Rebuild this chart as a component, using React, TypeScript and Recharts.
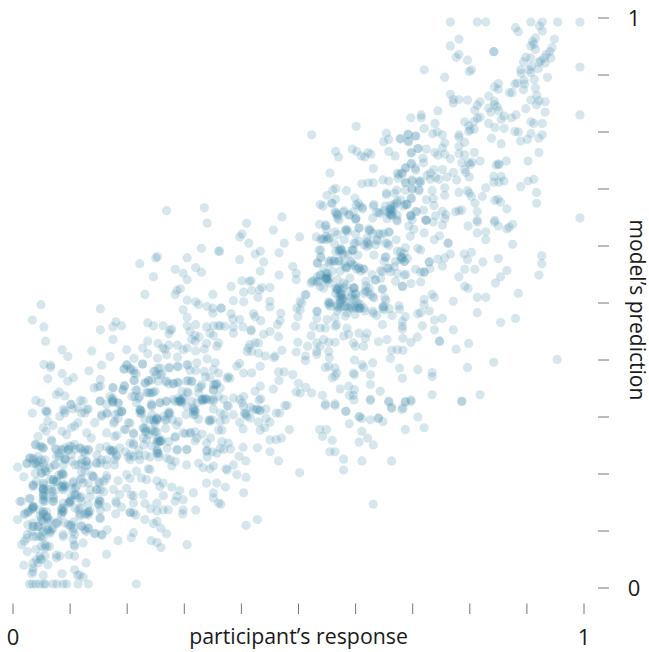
import React from 'react';
import { ScatterChart, Scatter, XAxis, YAxis } from 'recharts';

// readings, in thousandths: [participant's response, model's prediction]
const floorRow = [[29,7],[34,7],[40,7],[47,7],[54,7],[57,7],[70,7],[77,7],[88,7],[94,7],[114,7],[132,7],[216,7]];

const lowEdge = [[53,22],[35,29],[33,25],[86,25],[108,32],[117,23],[123,19],[113,22],[128,44],[19,40],[35,44],[41,50],[50,50],[56,56],[47,56],[61,41],[76,53],[82,56],[98,58],[108,73],[108,56],[164,59],[25,64],[15,76],[20,82],[25,94],[35,90],[41,90],[47,91],[56,70],[59,73],[40,68],[64,73],[123,79],[184,83],[207,88],[211,97],[242,83],[252,80],[259,71],[305,76],[269,95],[259,105],[246,113],[252,117],[231,120],[215,128],[205,132],[180,130],[164,142],[165,102],[155,94],[143,95],[132,105],[128,99],[120,109],[101,108],[105,99],[108,94],[88,94],[64,99],[59,102],[53,99],[35,108],[26,111],[8,120],[20,129],[26,132],[35,143],[32,137],[15,152],[29,157],[47,137],[53,129],[50,123],[61,123],[76,114],[85,132],[88,140],[99,152],[117,158],[120,152],[132,132],[126,129],[117,130],[135,135],[152,123],[149,148],[151,155],[146,173],[152,184],[140,196],[164,197],[184,188],[199,199],[205,192],[216,205],[225,193],[237,209],[240,208],[234,190],[252,188],[263,184],[257,178],[278,177],[292,171],[287,161],[284,152],[298,155],[316,167],[320,137],[298,137],[297,130],[272,137],[263,137],[252,149],[241,139],[231,148],[252,135],[263,162],[228,164],[211,162],[207,163],[211,149],[205,133],[187,164],[180,152],[181,149],[190,142],[176,173],[199,175],[211,132],[351,158],[351,167],[339,184],[360,149],[357,184]];

const lowLeft = [[8,212],[19,195],[25,219],[29,228],[35,228],[40,219],[44,231],[50,225],[56,225],[39,252],[47,249],[53,246],[44,266],[58,275],[57,310],[61,293],[70,285],[53,281],[67,260],[76,243],[85,243],[91,246],[97,243],[99,249],[108,252],[117,246],[126,243],[132,243],[76,231],[91,226],[88,216],[102,234],[120,219],[128,222],[128,214],[126,205],[64,211],[56,205],[42,216],[47,214],[50,202],[35,180],[54,181],[53,173],[53,161],[53,155],[41,187],[70,190],[76,187],[85,199],[88,181],[88,175],[91,178],[105,184],[102,161],[70,161],[70,152],[61,173],[67,173],[88,149],[97,149],[108,164],[111,178],[35,143],[53,172],[53,163],[56,152],[87,178],[88,172],[36,143],[53,134],[62,116],[91,225],[118,245],[100,152],[132,105],[151,152],[36,225],[44,222],[53,219],[56,210],[74,216],[88,198],[77,187],[71,190],[109,216],[97,242],[103,248],[126,236],[106,187],[120,192],[138,198],[150,187],[159,169],[118,140],[132,134],[135,160],[112,163],[85,137]];

const lowLeftDense = [[24,218],[30,228],[36,218],[40,251],[50,248],[53,245],[68,257],[74,245],[88,242],[109,243],[123,239],[132,242],[147,233],[164,248],[170,242],[80,236],[81,230],[91,228],[103,222],[115,216],[121,225],[132,216],[147,219],[153,219],[164,216],[129,222],[120,204],[72,216],[88,201],[59,204],[50,201],[39,201],[65,190],[71,187],[80,198],[85,201],[85,178],[91,181],[103,175],[74,172],[68,169],[53,184],[52,175],[56,160],[53,152],[71,157],[71,152],[36,181],[35,178],[118,190],[123,184],[132,184],[141,195],[159,187],[164,192],[147,172],[153,172],[135,172],[109,175],[103,154],[99,149],[85,140],[88,134],[85,128],[115,137],[109,140],[129,131],[132,128],[153,152],[150,146],[153,137],[153,122],[120,160],[109,163],[132,146],[34,140],[27,134],[21,131],[50,119],[59,134],[59,125],[65,119],[77,113],[50,105],[36,108],[33,99],[44,108],[62,102],[68,102],[65,96],[24,87],[50,90],[97,111],[106,116],[106,105],[120,108],[126,102],[144,96],[156,93],[88,90],[12,152],[30,157],[35,35],[48,51],[44,44],[50,73],[56,76],[53,88],[53,117],[47,126],[53,132],[59,126],[35,140],[35,114],[44,108],[70,105],[79,117],[91,114],[105,85],[107,76],[76,58],[88,135],[102,111],[117,126],[53,167],[53,175]];

const lowMiddle = [[86,275],[94,269],[102,281],[108,284],[114,290],[129,272],[137,263],[143,290],[155,304],[165,306],[178,292],[184,298],[190,310],[164,272],[178,266],[152,246],[175,240],[178,225],[178,216],[181,231],[146,219],[155,225],[164,225],[129,313],[120,307],[102,322],[88,313],[82,301],[91,307],[123,328],[152,328],[175,328],[202,290],[195,278],[211,272],[222,313],[225,310],[243,319],[228,281],[233,275],[247,292],[252,295],[272,307],[266,295],[284,266],[254,257],[257,257],[252,237],[253,240],[252,254],[243,249],[222,225],[205,234],[205,225],[187,246],[275,225],[284,222],[269,228],[278,214],[304,216],[325,219],[345,209],[333,211],[351,214],[339,254],[339,240],[310,272],[298,272],[322,263],[345,292],[322,325],[316,313],[319,304],[292,328],[295,325],[333,328],[351,328],[288,243],[304,243],[269,295],[234,260],[228,263],[211,254],[216,325],[240,295],[249,275]];

const midKnots = [[200,391],[194,384],[206,383],[212,377],[227,393],[212,364],[175,352],[195,355],[193,347],[232,359],[238,364],[243,365],[215,347],[220,333],[208,336],[234,343],[243,343],[249,345],[258,374],[246,380],[258,386],[274,386],[289,388],[306,391],[320,381],[267,362],[273,358],[281,358],[290,360],[307,364],[313,362],[337,371],[329,353],[351,356],[351,347],[363,351],[325,342],[296,345],[305,344],[258,325],[268,327],[284,327],[293,330],[296,327],[290,333],[313,327],[331,330],[337,333],[346,330],[175,333],[185,324],[223,312],[191,309],[243,321],[243,304],[176,289],[179,304],[252,298],[249,289],[273,309],[305,318],[319,312],[316,304],[325,296],[343,294],[349,295],[363,292],[205,289],[229,280],[232,274],[197,278],[211,270],[182,268],[170,242],[246,274],[267,280],[287,286],[302,271],[311,272],[284,264],[258,258],[255,263],[238,269],[331,270],[319,258],[346,263],[363,245],[340,241],[287,242],[305,243],[270,245],[254,236],[229,251],[232,233],[205,254],[211,251],[220,233],[176,242],[182,233],[202,230],[340,230],[357,236],[240,342],[290,327],[299,333],[223,312],[316,309],[252,295],[252,260],[258,257],[255,230],[252,242],[255,236],[173,239],[175,327],[185,309],[246,295],[243,277],[232,280],[252,274],[264,301],[273,304],[279,295],[290,292],[319,274],[360,277],[349,239],[261,259],[197,239],[211,231],[220,242],[240,230],[273,257]];

const midUpper = [[269,662],[335,667],[340,640],[330,596],[360,591],[253,581],[250,579],[222,569],[305,579],[284,559],[320,562],[330,554],[298,552],[305,541],[246,546],[293,525],[287,522],[284,515],[231,515],[305,505],[320,502],[325,497],[350,515],[340,494],[350,491],[350,482],[365,491],[298,488],[305,475],[49,497],[34,470],[54,458],[57,433],[153,490],[153,453],[180,467],[175,458],[190,460],[175,436],[236,465],[246,460],[236,433],[263,460],[275,452],[278,454],[273,446],[305,460],[320,462],[310,450],[319,443],[326,440],[339,458],[351,460],[360,460],[345,447],[351,443],[360,430],[357,424],[339,429],[319,433],[313,436],[305,421],[288,426],[298,418],[320,416],[335,419],[254,429],[227,421],[236,411],[262,421],[266,419],[273,426],[199,418],[138,416],[86,418],[96,406],[170,406],[212,403],[253,403],[269,409],[288,405],[340,402],[354,395],[227,393],[54,392],[66,391],[66,387],[155,391],[199,392],[205,386],[211,382],[195,384],[216,376],[133,381],[86,376],[106,369],[96,363],[61,367],[153,366],[273,387],[254,386],[249,380],[261,376],[252,374],[305,392],[288,389],[310,382],[335,380],[351,383],[360,377],[345,369],[237,363],[231,360],[254,363],[269,363],[281,359],[288,361],[304,363],[313,363],[331,357],[325,351],[356,357],[351,348],[212,364],[153,354],[142,351],[149,353],[175,351],[195,354],[192,348],[81,344],[76,339],[91,337],[40,329],[49,325],[34,307],[59,311],[60,308],[101,322],[118,329],[105,314],[114,316],[91,311],[132,314],[126,307],[153,328],[170,336],[173,331],[164,322],[184,325],[175,325],[190,310],[164,307],[155,301],[217,347],[213,336],[222,336],[237,343],[246,343],[242,323],[257,325],[269,328],[222,307],[225,306],[295,331],[293,328],[281,331],[307,342],[331,331],[316,316],[319,310],[351,314],[351,331],[336,331],[360,336],[275,307],[303,304],[252,298],[231,295],[345,295],[363,307]];

const midLowRight = [[480,320],[461,307],[450,291],[443,298],[484,278],[470,263],[461,260],[450,260],[450,239],[465,223],[502,202],[428,246],[433,277],[403,279],[403,247],[381,244],[377,254],[396,231],[408,223],[386,216],[373,209],[375,207],[392,199],[408,194],[372,177],[404,167],[364,147],[428,120],[408,110],[631,147],[537,278],[549,278],[542,266],[559,259],[555,239],[564,239],[579,226],[579,207],[611,223],[663,223],[606,256],[621,263],[631,251],[611,275],[589,288],[583,310],[564,320],[547,320],[606,300],[611,297],[626,295],[640,298],[648,292],[663,315],[681,313],[709,300],[720,281],[687,278],[658,326],[687,326],[697,327],[786,327],[626,329],[597,330],[375,320],[401,325],[370,304],[386,304],[405,306],[408,304],[416,298],[397,291],[428,314],[432,311],[443,314],[430,291],[441,281],[372,295],[366,277],[366,257],[369,243],[416,317],[421,313]];

const centreLeft = [[409,640],[471,651],[456,628],[401,621],[397,616],[413,605],[475,605],[502,616],[362,591],[397,576],[424,586],[433,591],[466,588],[439,572],[433,556],[466,549],[490,564],[496,552],[496,541],[401,539],[417,539],[414,538],[382,529],[436,527],[450,527],[432,523],[418,522],[404,519],[429,510],[386,504],[404,502],[450,503],[513,515],[503,503],[497,491],[503,488],[499,476],[495,459],[364,491],[450,493],[469,482],[421,481],[424,476],[434,469],[382,481],[385,472],[397,471],[468,469],[463,462],[417,453],[417,451],[403,458],[386,458],[386,447],[371,459],[363,460],[465,441],[450,450],[439,445],[424,430],[430,430],[415,427],[412,421],[418,415],[410,415],[430,412],[471,417],[496,414],[499,431],[459,407],[457,404],[442,407],[397,394],[433,389],[465,379],[475,379],[490,374],[466,364],[456,349],[433,354],[404,377],[418,377],[392,389],[377,371],[375,368],[380,368],[322,395],[357,359],[354,357],[424,345],[434,332],[431,330],[476,320],[467,307],[427,313],[433,312],[397,331],[404,336],[386,333],[404,319],[377,319],[407,307],[410,301],[369,331],[339,331],[333,331]];

const centreCluster = [[503,342],[496,344],[500,359],[513,352],[523,342],[542,338],[547,323],[564,323],[583,310],[626,331],[658,328],[663,317],[683,316],[687,327],[697,330],[607,301],[640,298],[596,377],[598,374],[588,354],[573,349],[598,348],[596,338],[589,338],[626,357],[643,345],[626,374],[611,392],[614,387],[630,395],[598,400],[547,387],[553,389],[564,386],[564,372],[559,369],[567,377],[554,404],[553,415],[532,415],[532,410],[512,407],[512,399],[516,424],[538,424],[553,431],[564,431],[579,442],[588,445],[596,430],[600,424],[614,424],[617,438],[620,447],[606,447],[585,456],[564,459],[567,462],[547,456],[538,456],[526,459],[522,443],[532,430],[544,436],[532,486],[532,473],[550,471],[564,474],[582,477],[599,480],[553,497],[556,500],[568,494],[573,500],[579,508],[576,515],[571,527],[568,524],[579,527],[597,527],[600,515],[605,494],[608,491],[597,494],[591,494],[585,483],[617,521],[632,509],[626,515],[647,525],[651,509],[648,494],[650,494],[676,495],[659,490],[664,478],[630,486],[637,478],[647,462],[687,476],[682,468],[682,459],[682,454],[683,438],[709,481],[708,440],[697,431],[663,417],[673,418],[683,417],[661,403],[677,386],[682,368],[709,383],[640,432],[655,436],[574,517],[576,506],[597,506],[601,491],[616,486],[588,491],[568,486],[574,494],[570,511]];

const centreUpper = [[522,535],[533,537],[538,529],[544,526],[538,549],[549,547],[550,541],[550,545],[559,556],[573,556],[585,562],[579,570],[555,570],[563,574],[570,574],[536,593],[533,570],[539,581],[571,593],[576,593],[587,585],[596,593],[600,605],[606,608],[620,614],[626,628],[638,609],[620,599],[635,602],[652,605],[658,601],[673,591],[687,597],[696,617],[709,596],[702,629],[682,579],[679,576],[686,573],[652,580],[670,573],[656,561],[644,557],[634,541],[613,560],[606,562],[599,565],[602,559],[618,538],[629,550],[644,543],[688,550],[705,559],[697,534],[682,529],[670,538],[661,555],[579,535],[568,541],[590,544],[632,673],[605,675],[612,668],[661,664],[667,673],[672,675],[661,671],[652,670],[637,659],[672,646],[690,673],[684,670],[696,653],[699,646],[693,635],[623,630],[640,622],[658,625],[649,622],[579,659],[565,658],[568,649],[600,648],[606,632],[582,627],[585,629],[564,625],[547,635],[537,638],[531,616],[541,613],[549,617],[558,675],[538,673],[548,637],[549,629],[544,612],[550,611],[554,614],[568,620],[571,646],[568,656],[588,655],[600,646],[586,625],[583,628],[600,621],[606,631],[624,627],[630,622],[637,611],[644,620],[659,624],[621,605],[624,602],[656,605],[671,611],[580,611],[673,644],[662,656],[662,663],[655,648],[643,657],[630,649],[574,593],[571,591],[577,587],[594,593],[604,584],[592,573],[583,561],[609,556],[615,559],[553,573],[562,573],[533,570],[539,579],[539,593],[632,584],[653,581],[679,590],[682,579],[685,573],[691,578],[668,564],[659,561],[647,555],[673,552],[685,549],[682,529],[635,540],[618,530],[624,526],[647,524],[630,511],[653,505],[615,517],[597,526],[583,532],[568,526],[574,514],[573,505],[580,494],[592,509],[604,500],[607,491],[594,491],[615,491],[553,500],[556,494],[548,543],[551,552],[539,549],[536,538],[554,535],[527,539],[647,491],[650,488],[677,489],[512,514],[506,500],[533,485],[631,482]];

const centreDense = [[574,596],[580,584],[594,592],[592,570],[595,567],[606,561],[583,564],[565,590],[557,575],[571,573],[597,605],[615,602],[621,608],[568,523],[565,517],[574,523],[574,511],[577,508],[583,502],[594,514],[600,517],[600,508],[606,491],[609,497],[553,502],[568,497],[571,491],[583,494],[597,526],[544,561],[548,552],[551,540],[554,543],[533,546],[524,538],[565,526],[589,520],[621,520],[650,573],[679,581],[685,587],[659,656],[665,660],[662,654],[563,604],[553,614],[539,611],[548,543],[548,543]];

const upperBand = [[601,810],[523,795],[654,798],[658,787],[649,783],[678,788],[565,766],[570,756],[594,770],[602,766],[610,758],[616,756],[622,764],[627,761],[658,766],[669,758],[555,728],[631,736],[673,728],[674,719],[648,716],[658,714],[611,709],[622,711],[631,711],[565,701],[560,698],[584,697],[550,689],[565,682],[559,675],[543,670],[599,684],[601,672],[607,670],[612,665],[631,670],[580,662],[596,660],[564,660],[568,654],[590,654],[601,649],[641,659],[654,690],[654,693],[672,698],[668,693],[650,662],[662,666],[668,669],[658,660],[673,679],[664,654],[673,654],[687,737],[698,745],[705,737],[698,764],[710,771],[692,796],[692,783],[705,793],[687,712],[699,716],[713,711],[687,698],[699,701],[711,697],[698,683],[687,673],[707,660],[697,654],[682,727],[676,725]];

const topBand = [[766,993],[813,993],[828,993],[880,983],[885,976],[907,993],[922,986],[927,993],[927,977],[954,993],[993,993],[781,963],[766,951],[842,941],[842,941],[781,936],[776,931],[796,926],[720,909],[803,909],[799,906],[756,896],[948,963],[915,965],[910,959],[907,951],[912,954],[915,945],[898,931],[907,930],[944,948],[940,941],[934,936],[930,930],[942,930],[924,925],[921,922],[932,921],[920,911],[908,915],[904,909],[894,923],[889,909],[890,903],[907,904],[993,914],[936,896],[913,892],[895,891],[896,884],[883,886],[879,884],[894,874],[915,877],[917,864],[850,885],[843,879],[850,875],[766,866],[833,863],[869,869],[874,869],[907,856],[932,853],[917,848],[921,855],[898,841],[932,835],[993,830],[781,857],[771,857],[771,851],[796,856],[818,853],[813,847],[809,838],[744,837],[715,830],[715,825],[697,825],[843,854],[843,848],[848,844],[833,842],[837,835],[851,837],[818,826],[813,824],[860,828],[855,822],[873,825],[881,830],[791,818],[807,818],[833,815],[844,808],[860,806],[739,815],[720,806],[735,797],[743,800],[752,795],[798,811],[798,801],[801,804],[808,805],[781,795],[781,791],[791,782],[838,789],[855,779],[879,801],[885,800],[907,818],[912,815],[927,815],[907,797],[901,787],[889,784],[927,795],[921,789],[921,764],[902,749],[864,749],[850,744],[846,742],[851,743],[818,749],[808,764],[791,760],[781,775],[781,762],[786,746],[798,746],[804,747],[801,743],[791,734],[793,729],[799,721],[771,729],[777,716],[756,781],[752,772],[739,764],[756,761],[744,759],[766,753],[724,770],[709,771],[697,763],[692,796],[705,793],[679,788],[693,784],[718,754],[719,746],[697,744],[688,737],[705,733],[681,728],[737,734],[752,734],[731,728],[725,724],[740,720],[731,717],[714,714],[711,714],[699,714],[688,711],[760,721],[746,717],[699,699],[711,699],[734,697],[756,702],[756,689],[781,694],[796,697],[799,693],[828,702],[842,722],[855,722],[860,714],[842,712],[851,712],[889,704],[902,714],[912,717],[917,694],[917,675],[803,687],[809,675],[822,687],[844,680],[849,682],[854,677],[865,665],[813,660],[775,660],[786,663],[781,662],[752,661],[758,655],[724,681],[736,683],[737,671],[719,663],[705,661],[697,684],[690,673],[679,681],[697,652],[722,646],[813,645],[844,645],[993,649]];

const rightBand = [[843,642],[850,635],[813,642],[797,635],[875,638],[869,633],[865,630],[813,623],[828,625],[828,611],[875,603],[762,605],[762,605],[747,618],[738,611],[720,623],[752,637],[756,648],[740,653],[736,642],[724,645],[724,645],[714,593],[766,586],[790,586],[803,589],[796,576],[823,572],[850,578],[926,583],[926,569],[921,549],[865,557],[854,546],[845,535],[791,559],[809,559],[781,546],[791,529],[797,526],[813,510],[828,510],[885,517],[771,503],[813,483],[854,466],[880,473],[752,473],[738,470],[738,453],[771,453],[747,433],[747,433],[798,429],[776,419],[842,396],[953,401],[796,387],[734,378],[734,371],[818,339],[734,339],[786,328],[729,572],[729,572],[720,554],[720,554],[714,554],[730,560],[744,577],[756,579],[752,565],[734,515],[738,510],[720,506],[720,497],[729,486],[714,483],[717,460],[714,537]];

const allPoints = [...floorRow, ...lowEdge, ...lowLeft, ...lowLeftDense, ...lowMiddle, ...midKnots, ...midUpper, ...midLowRight, ...centreLeft, ...centreCluster, ...centreUpper, ...centreDense, ...upperBand, ...topBand, ...rightBand];
const chartData = allPoints.map(([response, prediction]) => ({ response: response / 1000, prediction: prediction / 1000 }));

const tickValues = [0, 0.1, 0.2, 0.3, 0.4, 0.5, 0.6, 0.7, 0.8, 0.9, 1];
const FONT = '"Open Sans", sans-serif';

const XTick = ({ x, y, payload }: any) => (
  <g>
    <line x1={x} x2={x} y1={y + 9.5} y2={y + 20} stroke="#777" strokeWidth={1} />
    {(payload.value === 0 || payload.value === 1) && (
      <text x={x} y={y + 51} textAnchor="middle" fontFamily={FONT} fontSize={22} fill="#1a1a1a">{payload.value}</text>
    )}
  </g>
);

const YTick = ({ x, y, payload }: any) => (
  <g>
    <line x1={x + 8} x2={x + 19} y1={y} y2={y} stroke="#777" strokeWidth={1} />
    {(payload.value === 0 || payload.value === 1) && (
      <text x={x + 44} y={y + 8} textAnchor="middle" fontFamily={FONT} fontSize={22} fill="#1a1a1a">{payload.value}</text>
    )}
  </g>
);

const Dot = ({ cx, cy }: any) => <circle cx={cx} cy={cy} r={4.6} fill="#438bab" fillOpacity={0.22} />;

export default function App() {
  return (
    <div style={{ position: 'absolute', left: 0, top: 0 }}>
      <ScatterChart width={649} height={652} margin={{ top: 18, right: 0, bottom: 0, left: 13 }}>
        <XAxis
          type="number"
          dataKey="response"
          domain={[0, 1]}
          ticks={tickValues}
          height={64}
          axisLine={false}
          tickLine={false}
          tick={<XTick />}
          interval={0}
          tickMargin={0}
          label={{ value: 'participant’s response', position: 'insideBottom', offset: 8, fontFamily: FONT, fontSize: 21.3, fill: '#1a1a1a' }}
        />
        <YAxis
          type="number"
          dataKey="prediction"
          orientation="right"
          domain={[0, 1]}
          ticks={tickValues}
          width={65}
          axisLine={false}
          tickLine={false}
          tick={<YTick />}
          interval={0}
          tickMargin={0}
        />
        <Scatter data={chartData} shape={<Dot />} isAnimationActive={false} />
        <text x={630} y={310} transform="rotate(90 630 310)" textAnchor="middle" fontFamily={FONT} fontSize={21} fill="#1a1a1a">model’s prediction</text>
      </ScatterChart>
    </div>
  );
}
